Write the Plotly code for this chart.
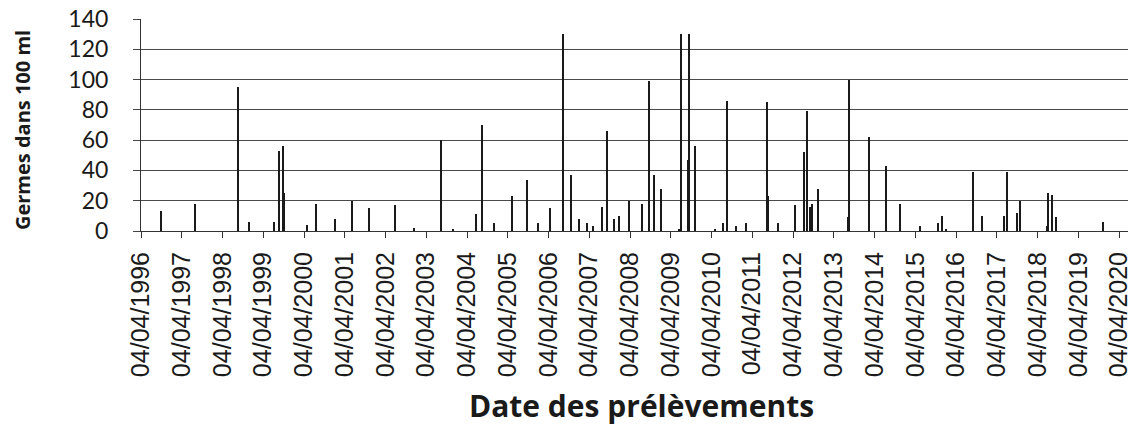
import plotly.graph_objects as go

# Sampling dates and counts (germs per 100 ml)
dates = [
    "1996-10-01", "1997-08-04", "1998-08-23", "1998-11-27", "1999-07-13",
    "1999-08-21", "1999-09-26", "1999-10-05", "2000-04-30", "2000-07-22",
    "2001-01-08", "2001-06-12", "2001-11-11", "2002-06-27", "2002-12-20",
    "2003-08-13", "2003-11-29", "2004-06-27", "2004-08-17", "2004-12-06",
    "2005-05-13", "2005-09-19", "2006-01-04", "2006-04-20", "2006-08-15",
    "2006-10-23", "2007-01-03", "2007-03-18", "2007-05-05", "2007-07-27",
    "2007-09-13", "2007-11-12", "2007-12-29", "2008-03-29", "2008-07-24",
    "2008-09-19", "2008-11-05", "2009-01-06", "2009-06-16", "2009-07-01",
    "2009-09-07", "2009-09-13", "2009-11-09", "2010-05-05", "2010-07-16",
    "2010-08-21", "2010-11-07", "2011-02-07", "2011-08-13", "2011-08-22",
    "2011-11-17", "2012-04-18", "2012-07-10", "2012-08-03", "2012-09-02",
    "2012-09-22", "2012-11-09", "2013-08-08", "2013-08-17", "2014-02-09",
    "2014-07-14", "2014-11-16", "2015-05-15", "2015-10-21", "2015-12-01",
    "2016-01-01", "2016-09-01", "2016-11-21", "2017-06-03", "2017-06-30",
    "2017-09-27", "2017-10-24", "2018-06-23", "2018-07-02", "2018-08-07",
    "2018-09-12", "2019-11-12",
]
germes = [
    13, 18, 95, 6, 6,
    53, 56, 25, 4, 18,
    8, 20, 15, 17, 2,
    60, 1.5, 11, 70, 5,
    23, 34, 5, 15, 130,
    37, 8, 5, 3, 16,
    66, 8, 10, 20, 18,
    99, 37, 28, 1.5, 130,
    47, 130, 56, 1.5, 5,
    86, 3, 5, 85, 23,
    5, 17, 52, 79, 16,
    18, 28, 9, 100, 62,
    43, 18, 3, 5, 10,
    1, 39, 10, 10, 39,
    12, 20, 3, 25, 24,
    9, 6,
]

tick_years = list(range(1996, 2021))
tick_vals = [f"{y}-04-04" for y in tick_years]
tick_text = [f"04/04/{y}" for y in tick_years]
y_ticks = [0, 20, 40, 60, 80, 100, 120, 140]

DAY_MS = 86400000

fig = go.Figure(
    go.Bar(
        x=dates,
        y=germes,
        width=[10 * DAY_MS] * len(dates),
        marker=dict(color="#1a1a1a", line=dict(width=0)),
    )
)

fig.update_layout(
    width=1133,
    height=428,
    margin=dict(l=141, r=5, t=19, b=197),
    paper_bgcolor="white",
    plot_bgcolor="white",
    showlegend=False,
    bargap=0,
    xaxis=dict(
        type="date",
        range=["1996-04-04", "2020-06-21"],
        tickmode="array",
        tickvals=tick_vals,
        ticktext=tick_text,
        tickangle=-90,
        ticks="outside",
        ticklen=6,
        tickcolor="#333",
        ticklabelstandoff=4,
        showgrid=False,
        showline=True,
        linecolor="#333",
        linewidth=1,
        automargin=False,
        tickfont=dict(family="Liberation Sans, Arial, sans-serif", size=25, color="#1a1a1a"),
        zeroline=False,
    ),
    yaxis=dict(
        range=[0, 140],
        tickmode="array",
        tickvals=y_ticks,
        ticks="outside",
        ticklen=7,
        tickcolor="#444",
        ticklabelstandoff=20,
        showgrid=True,
        gridcolor="#4a4a4a",
        gridwidth=1,
        showline=True,
        linecolor="#333",
        linewidth=1,
        automargin=False,
        zeroline=False,
        tickfont=dict(family="Lato, Open Sans, sans-serif", size=23, color="#1a1a1a"),
    ),
    annotations=[
        dict(
            text="<b>Date des prélèvements</b>",
            xref="paper", yref="paper",
            x=0.507, y=-0.825,
            xanchor="center", yanchor="middle",
            showarrow=False,
            font=dict(family="Open Sans, sans-serif", size=30, color="#1a1a1a"),
        ),
        dict(
            text="<b>Germes dans 100 ml</b>",
            xref="paper", yref="paper",
            x=-0.120, y=0.474,
            xanchor="center", yanchor="middle",
            textangle=-90,
            showarrow=False,
            font=dict(family="Open Sans, sans-serif", size=20, color="#1a1a1a"),
        ),
    ],
)

fig.write_html(
    "out.html",
    config={"displayModeBar": False},
    post_script="document.body.style.margin='0';document.body.style.overflow='hidden';",
)
